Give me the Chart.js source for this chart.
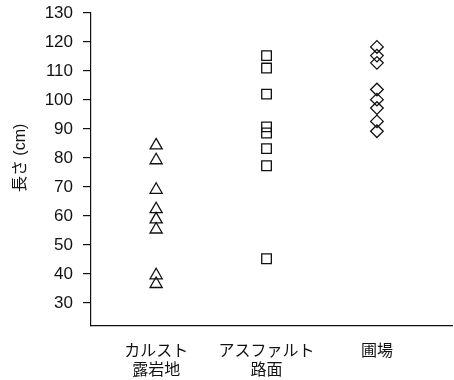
<!DOCTYPE html>
<html>
<head>
<meta charset="utf-8">
<script src="https://cdn.jsdelivr.net/npm/chart.js@4.4.0/dist/chart.umd.min.js"></script>
<style>
  html, body { margin: 0; padding: 0; background: #fff; }
  #wrap { width: 454px; height: 380px; }
</style>
</head>
<body>
<div id="wrap"><canvas id="chart" width="454" height="380"></canvas></div>
<script>
// categories (x positions 1..3) and their two-line labels
const categories = [["カルスト", "露岩地"], ["アスファルト", "路面"], ["圃場"]];

// measured lengths (cm) per site
const karstValues = [84.3, 79.2, 69, 62.3, 58.8, 55.3, 39.5, 36.5];
const asphaltValues = [115.3, 111, 102, 90.7, 88.6, 83.2, 77.3, 45.2];
const fieldValues = [118.3, 115.3, 112.8, 103.6, 100.1, 97.2, 92.6, 89.2];

const yTicks = [30, 40, 50, 60, 70, 80, 90, 100, 110, 120, 130];
const yTitle = "長さ (cm)";

const toPoints = (vals, idx) => vals.map(v => ({ x: idx + 1, y: v }));

const latin = "'Liberation Sans', 'Noto Sans CJK JP', sans-serif";
const cjk = "'Noto Sans CJK JP', 'Liberation Sans', sans-serif";

const marker = {
  showLine: false,
  backgroundColor: "rgba(0,0,0,0)",
  borderColor: "#111",
  borderWidth: 1.3,
};

// the axis title sits level with the 80 tick, a bit above the plot centre
const sideTitle = {
  id: "sideTitle",
  afterDraw(chart) {
    const ctx = chart.ctx;
    const y = chart.scales.y.getPixelForValue(80);
    ctx.save();
    ctx.translate(21, y);
    ctx.rotate(-Math.PI / 2);
    ctx.font = "16px " + latin;
    ctx.fillStyle = "#111";
    ctx.textAlign = "center";
    ctx.textBaseline = "middle";
    ctx.fillText(yTitle, 0, 0);
    ctx.restore();
  },
};

new Chart(document.getElementById("chart"), {
  type: "scatter",
  data: {
    datasets: [
      { ...marker, label: "karst", data: toPoints(karstValues, 0), pointStyle: "triangle", pointRadius: 7 },
      { ...marker, label: "asphalt", data: toPoints(asphaltValues, 1), pointStyle: "rect", pointRadius: 6.8 },
      { ...marker, label: "field", data: toPoints(fieldValues, 2), pointStyle: "rectRot", pointRadius: 6.3 },
    ],
  },
  plugins: [sideTitle],
  options: {
    responsive: false,
    animation: false,
    layout: { autoPadding: false, padding: { top: 13, right: 2, left: 0, bottom: 0 } },
    plugins: { legend: { display: false }, tooltip: { enabled: false } },
    scales: {
      x: {
        type: "linear",
        min: 0.41,
        max: 3.68,
        afterBuildTicks: s => { s.ticks = categories.map((c, i) => ({ value: i + 1 })); },
        afterFit: s => { s.height = 54; s.paddingLeft = 0; s.paddingRight = 0; },
        grid: { display: false, drawTicks: false },
        border: { display: true, color: "#111", width: 1.2 },
        ticks: {
          autoSkip: false,
          maxRotation: 0,
          padding: 15,
          color: "#111",
          font: { family: cjk, size: 16, lineHeight: 1.15 },
          callback: v => categories[Math.round(v) - 1] || "",
        },
      },
      y: {
        min: 22,
        max: 130,
        afterBuildTicks: s => { s.ticks = yTicks.map(v => ({ value: v })); },
        afterFit: s => { s.width = 91; s.paddingTop = 0; s.paddingBottom = 0; },
        grid: { drawOnChartArea: false, drawTicks: true, tickLength: 8, color: "#111", lineWidth: 1.2 },
        border: { display: true, color: "#111", width: 1.2 },
        ticks: {
          padding: 10,
          color: "#111",
          font: { family: latin, size: 17 },
        },
      },
    },
  },
});
</script>
</body>
</html>
